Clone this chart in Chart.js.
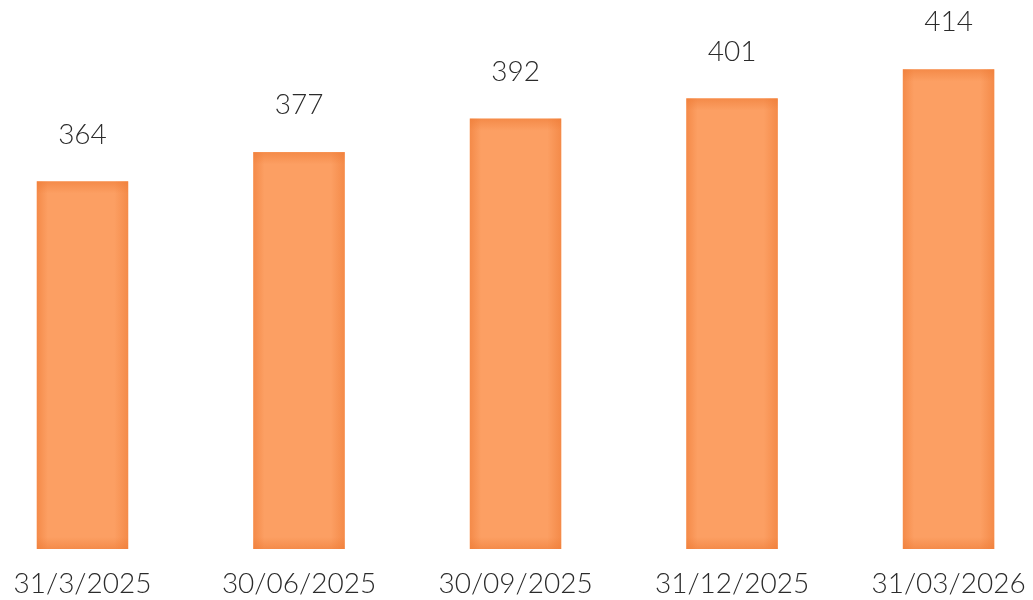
<!DOCTYPE html>
<html>
<head>
<meta charset="utf-8">
<script src="https://cdn.jsdelivr.net/npm/chart.js@4/dist/chart.umd.min.js"></script>
<style>
  html, body { margin: 0; padding: 0; background: #fff; }
  #wrap { width: 1033px; height: 600px; }
</style>
</head>
<body>
<div id="wrap"><canvas id="chart"></canvas></div>
<script>
const fechas = ['31/3/2025', '30/06/2025', '30/09/2025', '31/12/2025', '31/03/2026'];
const valores = [364, 377, 392, 401, 414];

const fuente = '"Lato", "Open Sans", sans-serif';
const naranja = '#fc9f63';
const borde = 'rgba(238,122,52,0.55)';

// etiquetas de valor encima de cada barra
const etiquetas = {
  id: 'etiquetas',
  afterDatasetsDraw(chart) {
    const c = chart.ctx;
    const meta = chart.getDatasetMeta(0);
    const abajo = chart.chartArea.bottom;
    c.save();
    // sombra interior suave en los bordes de la barra
    meta.data.forEach(bar => {
      const { x, y, width } = bar.getProps(['x', 'y', 'width'], true);
      const base = abajo;
      const l = x - width / 2, r = x + width / 2;
      let g = c.createLinearGradient(l, 0, r, 0);
      g.addColorStop(0, borde);
      g.addColorStop(0.12, 'rgba(238,122,52,0)');
      g.addColorStop(0.85, 'rgba(238,122,52,0)');
      g.addColorStop(1, borde);
      c.fillStyle = g;
      c.fillRect(l, y, width, base - y);
      g = c.createLinearGradient(0, y, 0, y + 12);
      g.addColorStop(0, borde);
      g.addColorStop(1, 'rgba(238,122,52,0)');
      c.fillStyle = g;
      c.fillRect(l, y, width, 12);
      g = c.createLinearGradient(0, base - 12, 0, base);
      g.addColorStop(0, 'rgba(238,122,52,0)');
      g.addColorStop(1, borde);
      c.fillStyle = g;
      c.fillRect(l, base - 12, width, 12);
    });
    c.fillStyle = '#2b2b2b';
    c.font = '300 28px ' + fuente;
    c.textAlign = 'center';
    c.textBaseline = 'middle';
    meta.data.forEach((bar, i) => {
      c.fillText(String(valores[i]), bar.x, bar.y - 47);
    });
    c.restore();
  }
};

new Chart(document.getElementById('chart'), {
  type: 'bar',
  data: {
    datasets: [{
      data: valores.map((v, i) => ({ x: i, y: v })),
      backgroundColor: naranja,
      borderWidth: 0,
      barThickness: 91
    }]
  },
  options: {
    responsive: true,
    maintainAspectRatio: false,
    animation: false,
    layout: { padding: 0 },
    plugins: { legend: { display: false }, tooltip: { enabled: false } },
    scales: {
      x: {
        type: 'linear',
        offset: false,
        min: -0.381,
        max: 4.39,
        grid: { display: false, drawTicks: false },
        border: { display: false },
        afterBuildTicks: s => { s.ticks = fechas.map((f, i) => ({ value: i })); },
        afterFit: s => { s.height = 51; s.paddingLeft = 0; s.paddingRight = 0; },
        ticks: {
          padding: 18,
          color: '#2b2b2b',
          font: { family: fuente, size: 28, weight: 300 },
          maxRotation: 0,
          autoSkip: false,
          callback: v => fechas[v]
        }
      },
      y: {
        display: false,
        min: 200,
        max: 445
      }
    }
  },
  plugins: [etiquetas]
});
</script>
</body>
</html>
